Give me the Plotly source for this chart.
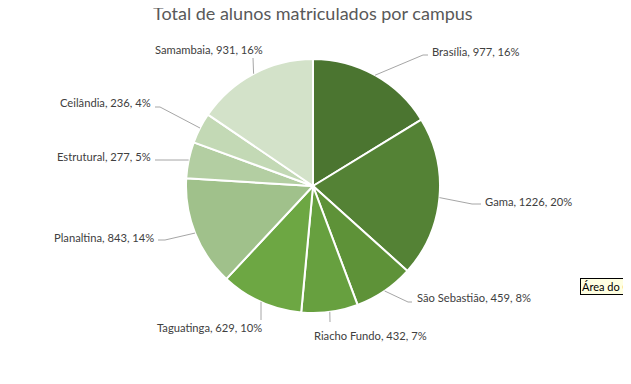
import math
import plotly.graph_objects as go

# ---- data ----
campus = ["Brasília", "Gama", "São Sebastião", "Riacho Fundo", "Taguatinga",
          "Planaltina", "Estrutural", "Ceilândia", "Samambaia"]
alunos = [977, 1226, 459, 432, 629, 843, 277, 236, 931]
percent_labels = [16, 20, 8, 7, 10, 14, 5, 4, 16]
title_text = "Total de alunos matriculados por campus"

# ---- style ----
colors = ["#4b7530", "#548235", "#5e9238", "#67a03f", "#6da743",
          "#a0c18b", "#b3cea2", "#c3d9b5", "#d3e2c9"]
PAGE_W, PAGE_H = 631, 384
BODY = 8                      # default page body margin
W, H = PAGE_W - BODY, PAGE_H - BODY
CX, CY, R = 313, 186, 127     # pie centre / radius in page pixels

# label placement (page px): (text x, text y, xanchor, elbow x, elbow y, end x, end y)
label_layout = [
    (430, 51, "left", 423, 55, 428, 55),
    (483, 201, "left", 472, 204, 481, 204),
    (415, 297, "left", 408, 302, 412, 302),
    (370, 335, "center", 330, 322, 330, 322),
    (209, 327, "center", 261, 320, 261, 320),
    (156, 237, "right", 165, 240, 158, 240),
    (153, 157, "right", 155, 160, 155, 160),
    (153, 102, "right", 160, 107, 155, 107),
    (209, 50, "center", 253, 58, 253, 58),
]


def px(x):
    return (x - BODY) / W


def py(y):
    return 1 - (y - BODY) / H


fig = go.Figure(go.Pie(
    labels=campus, values=alunos, sort=False, direction="clockwise", rotation=0,
    marker=dict(colors=colors, line=dict(color="white", width=2)),
    textinfo="none", hoverinfo="label+value+percent", showlegend=False,
    domain=dict(x=[px(CX - R), px(CX + R)], y=[py(CY + R), py(CY - R)]),
))

total = sum(alunos)
cum = 0
shapes, annotations = [], []
for name, n, pct, lay in zip(campus, alunos, percent_labels, label_layout):
    mid = (cum + n / 2) / total * 2 * math.pi
    cum += n
    ex = CX + R * math.sin(mid)
    ey = CY - R * math.cos(mid)
    tx, ty, anchor, bx, by, qx, qy = lay
    path = f"M {px(ex)},{py(ey)} L {px(bx)},{py(by)} L {px(qx)},{py(qy)}"
    shapes.append(dict(type="path", xref="paper", yref="paper", path=path,
                       line=dict(color="#a6a6a6", width=1)))
    annotations.append(dict(
        x=px(tx), y=py(ty), xref="paper", yref="paper", xanchor=anchor,
        yanchor="middle", showarrow=False,
        text=f"{name}, {n}, {pct}%",
        font=dict(family="Lato", size=11.2, color="#404040")))

annotations.append(dict(
    x=px(313), y=py(13), xref="paper", yref="paper", xanchor="center",
    yanchor="middle", showarrow=False, text=title_text,
    font=dict(family="Lato", size=18, color="#595959")))

annotations.append(dict(
    x=px(580), y=py(286), xref="paper", yref="paper", xanchor="left",
    yanchor="middle", showarrow=False, text="Área do Gráfico",
    bgcolor="#ffffe1", bordercolor="#000000", borderwidth=1, borderpad=1,
    font=dict(family="Lato", size=11, color="#000000")))

fig.update_layout(
    width=W, height=H, margin=dict(l=0, r=0, t=0, b=0),
    paper_bgcolor="white", plot_bgcolor="white",
    shapes=shapes, annotations=annotations,
)

fig.write_html("out.html")
